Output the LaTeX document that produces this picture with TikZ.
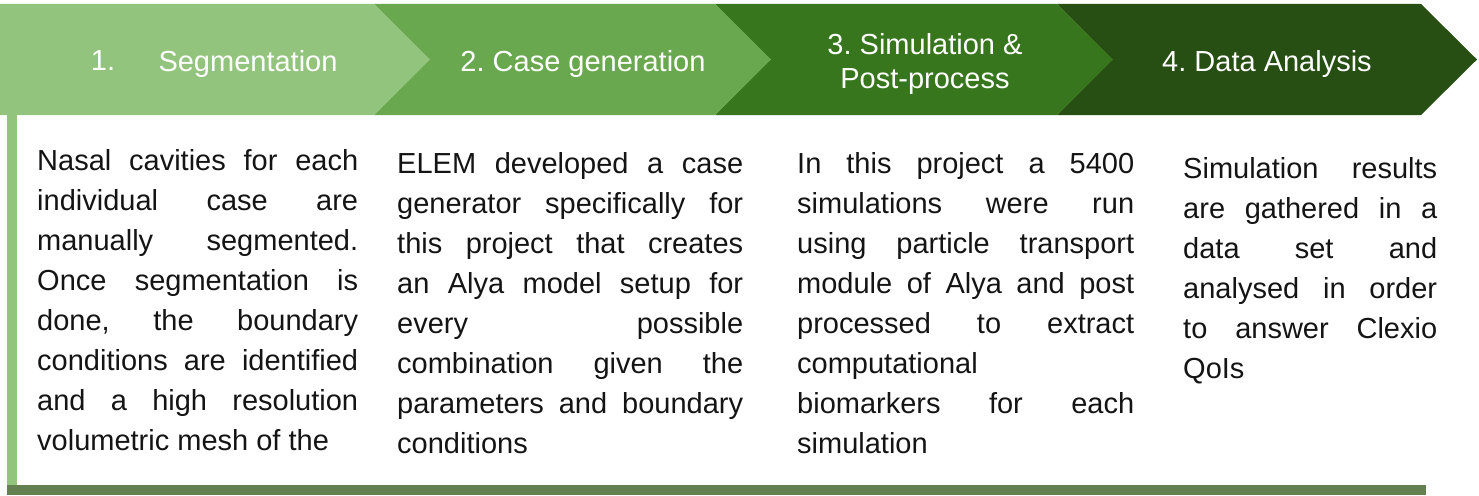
\documentclass[tikz,border=0pt]{standalone}
\usepackage{fontspec}
\setmainfont{Liberation Sans}
\usepackage{tikz}
\frenchspacing
\definecolor{stepone}{HTML}{93C47D}
\definecolor{steptwo}{HTML}{6AA84F}
\definecolor{stepthree}{HTML}{38761D}
\definecolor{stepfour}{HTML}{274E13}
\definecolor{framebar}{HTML}{647F50}
\definecolor{bodytext}{HTML}{141414}
\tikzset{
	head/.style={text=white, inner sep=0pt, font=\fontsize{29pt}{34pt}\selectfont, align=center},
	body/.style={text=bodytext, inner sep=0pt, anchor=base west, align=justify, font=\fontsize{29pt}{40pt}\selectfont}
}

\begin{document}
\begin{tikzpicture}[x=1pt, y=-1pt]
				\useasboundingbox (0,0) rectangle (1479,495);
				% chevrons, last one first so each tip lies on the next
				\foreach \l/\r/\c in {1057/1421/stepfour, 715/1057/stepthree, 374/715/steptwo, 0/374/stepone} {
					\fill[\c] (\l,4) -- (\r,4) -- (\r+56,59.5) -- (\r,115) -- (\l,115) -- (\l+55,59.5) -- cycle;
				}
				\fill[stepone] (0,4) rectangle (60,115);
				% frame
				\fill[stepone] (7,115) rectangle (17,485);
				\fill[framebar] (7,485) rectangle (1426,495);
				% headings
				\node[head] (h1a) at (103,61) {1.};
				\node[head] (h1) at (248,64) {Segmentation};
				\node[head] (h2) at (583,64) {2. Case generation};
				\node[head] (h3) at (925,64) {3. Simulation \&\\Post-process};
				\node[head] (h4) at (1267,64) {4. Data Analysis};
				% descriptions
				\node[body, text width=321pt] (t1) at (37,170) {Nasal cavities for each\linebreak individual case are\linebreak manually segmented.\linebreak Once segmentation is\linebreak done, the boundary\linebreak conditions are identified\linebreak and a high resolution\linebreak volumetric mesh of the};
				\node[body, text width=346pt] (t2) at (397,173) {ELEM developed a case\linebreak generator specifically for\linebreak this project that creates\linebreak an Alya model setup for\linebreak every possible\linebreak combination given the\linebreak parameters and boundary\linebreak conditions};
				\node[body, text width=337pt] (t3) at (797,173) {In this project a 5400\linebreak simulations were run\linebreak using particle transport\linebreak module of Alya and post\linebreak processed to extract\linebreak computational\\ biomarkers for each\linebreak simulation};
				\node[body, text width=254pt] (t4) at (1183,178) {Simulation results\linebreak are gathered in a\linebreak data set and\linebreak analysed in order\linebreak to answer Clexio\linebreak QoIs};
			\end{tikzpicture}
\end{document}
